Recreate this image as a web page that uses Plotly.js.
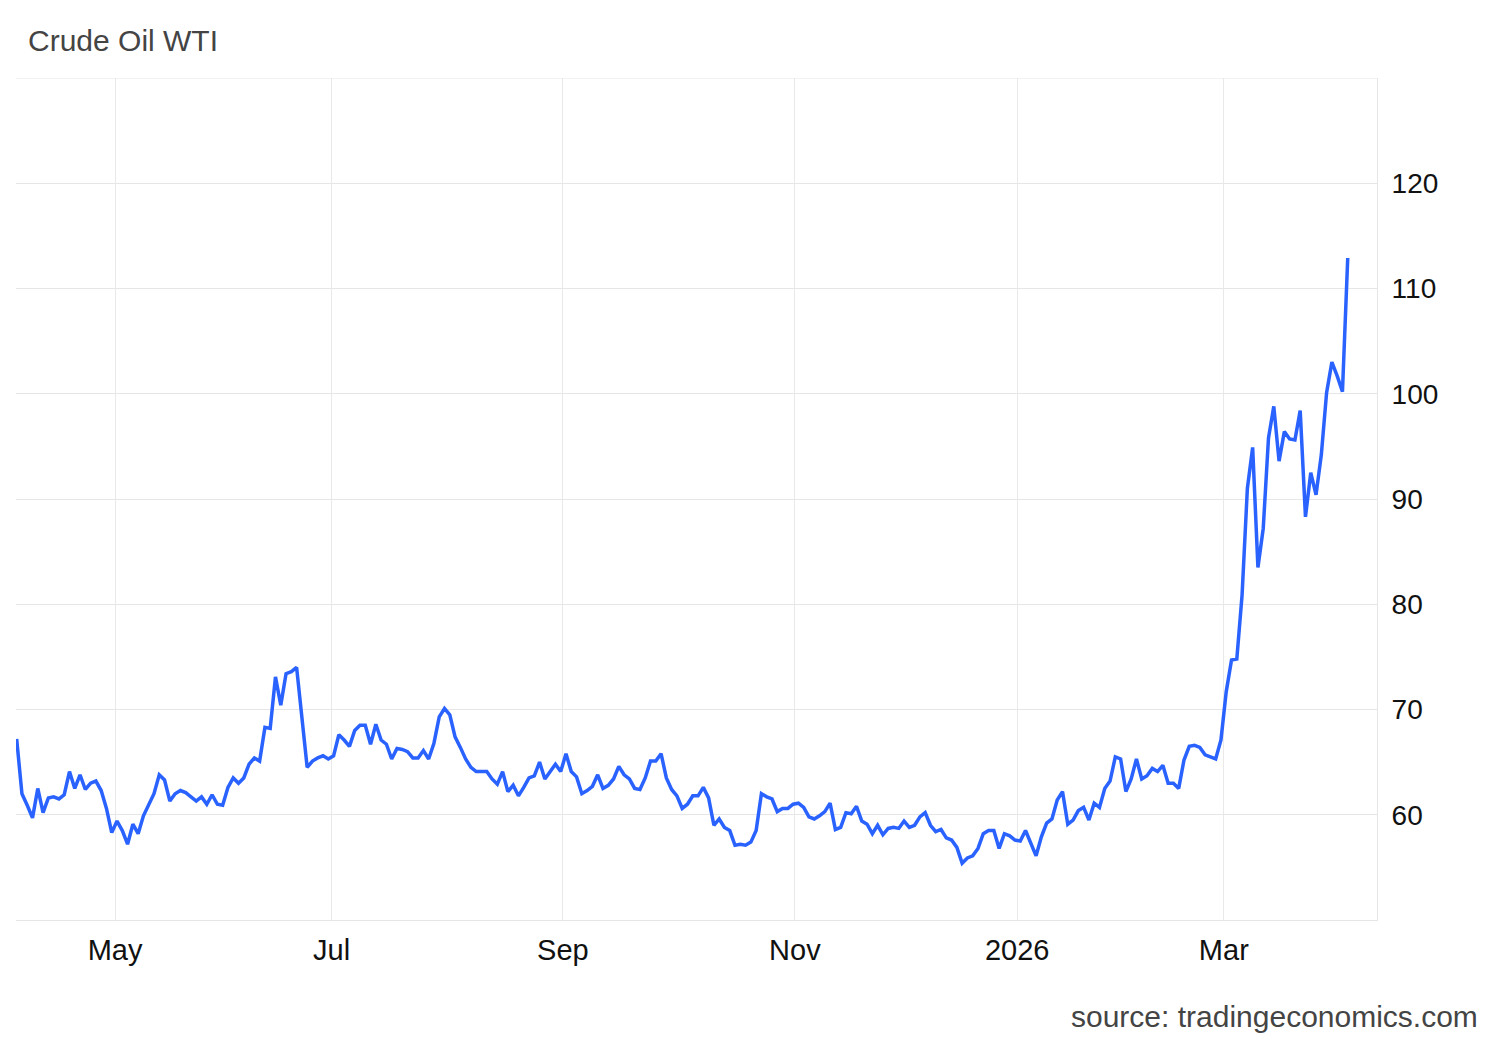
<!DOCTYPE html>
<html>
<head>
<meta charset="utf-8">
<script src="https://cdn.plot.ly/plotly-3.0.1.min.js"></script>
<style>html,body{margin:0;padding:0;background:#fff;}#chart{width:1500px;height:1040px;}</style>
</head>
<body>
<div id="chart"></div>
<script>
// Trading days (day of month) and WTI closes, month by month
const d2504 = [3,4,7,8,9,10,11,14,15,16,17,21,22,23,24,25,28,29,30];
const v2504 = [67.2,62.0,60.9,59.7,62.5,60.2,61.6,61.7,61.5,61.9,64.1,62.5,63.8,62.4,63.0,63.2,62.3,60.6,58.3];
const d2505 = [1,2,5,6,7,8,9,12,13,14,15,16,19,20,21,22,23,27,28,29,30];
const v2505 = [59.4,58.5,57.2,59.1,58.2,59.9,61.0,62.0,63.8,63.3,61.3,62.0,62.3,62.1,61.7,61.3,61.7,61.0,61.9,61.0,60.9];
const d2506 = [2,3,4,5,6,9,10,11,12,13,16,17,18,20,23,24,25,26,27,30];
const v2506 = [62.6,63.5,63.0,63.5,64.8,65.4,65.1,68.3,68.2,73.1,70.4,73.4,73.6,74.0,69.2,64.5,65.1,65.4,65.6,65.3];
const d2507 = [1,2,3,4,7,8,9,10,11,14,15,16,17,18,21,22,23,24,25,28,29,30,31];
const v2507 = [65.6,67.6,67.1,66.5,68.0,68.5,68.5,66.7,68.6,67.1,66.7,65.3,66.3,66.2,66.0,65.4,65.4,66.1,65.3,66.8,69.3,70.1,69.5];
const d2508 = [1,4,5,6,7,8,11,12,13,14,15,18,19,20,21,22,25,26,27,28,29];
const v2508 = [67.4,66.4,65.3,64.5,64.1,64.1,64.1,63.4,62.9,64.1,62.2,62.8,61.8,62.6,63.5,63.7,65.0,63.4,64.1,64.8,64.1];
const d2509 = [2,3,4,5,8,9,10,11,12,15,16,17,18,19,22,23,24,25,26,29,30];
const v2509 = [65.8,64.1,63.6,62.0,62.3,62.7,63.8,62.5,62.8,63.4,64.6,63.8,63.4,62.5,62.4,63.5,65.1,65.1,65.8,63.5,62.4];
const d2510 = [1,2,3,6,7,8,9,10,13,14,15,16,17,20,21,22,23,24,27,28,29,30,31];
const v2510 = [61.8,60.6,61.0,61.8,61.8,62.6,61.6,59.0,59.6,58.8,58.5,57.1,57.2,57.1,57.4,58.5,62.0,61.7,61.5,60.3,60.6,60.6,61.0];
const d2511 = [3,4,5,6,7,10,11,12,13,14,17,18,19,20,21,24,25,26,27,28];
const v2511 = [61.1,60.7,59.8,59.6,59.9,60.3,61.1,58.6,58.8,60.2,60.1,60.8,59.4,59.1,58.2,59.0,58.1,58.7,58.8,58.7];
const d2512 = [1,2,3,4,5,8,9,10,11,12,15,16,17,18,19,22,23,24,26,29,30,31];
const v2512 = [59.4,58.8,59.0,59.8,60.2,59.0,58.4,58.6,57.8,57.6,56.9,55.4,55.9,56.1,56.8,58.2,58.5,58.5,56.8,58.2,58.0,57.6];
const d2601 = [2,5,6,7,8,9,12,13,14,15,16,20,21,22,23,26,27,28,29,30];
const v2601 = [57.5,58.5,57.2,56.1,57.9,59.2,59.6,61.4,62.2,59.1,59.5,60.4,60.7,59.5,61.1,60.7,62.5,63.2,65.5,65.3];
const d2602 = [2,3,4,5,6,9,10,11,12,13,17,18,19,20,23,24,25,26,27];
const v2602 = [62.2,63.4,65.3,63.4,63.7,64.4,64.1,64.7,63.0,63.0,62.5,65.2,66.5,66.6,66.4,65.7,65.5,65.3,67.1];
const d2603 = [2,3,4,5,6,9,10,11,12,13,16,17,18,19,20,23,24,25,26,27,30,31];
const v2603 = [71.7,74.7,74.8,80.9,91.0,94.9,83.5,87.2,95.8,98.8,93.6,96.4,95.7,95.6,98.4,88.3,92.5,90.4,94.2,100.1,103.0,101.7];
const d2604 = [1,2];
const v2604 = [100.2,112.9];

const holidays = ['2025-04-18','2025-05-26','2025-06-19','2025-09-01','2025-12-25','2026-01-01','2026-01-19','2026-02-16'];
// month ticks sit just before the first trading session of each labelled month
const xTickVals = ['2025-04-30 15:00','2025-06-30 15:00','2025-08-29 10:00','2025-10-31 08:00','2025-12-31 10:00','2026-02-27 13:00'];
const xTickText = ['May','Jul','Sep','Nov','2026','Mar'];
const yTickVals = [60,70,80,90,100,110,120];

const months = [
  ['2025-04', d2504, v2504], ['2025-05', d2505, v2505], ['2025-06', d2506, v2506],
  ['2025-07', d2507, v2507], ['2025-08', d2508, v2508], ['2025-09', d2509, v2509],
  ['2025-10', d2510, v2510], ['2025-11', d2511, v2511], ['2025-12', d2512, v2512],
  ['2026-01', d2601, v2601], ['2026-02', d2602, v2602], ['2026-03', d2603, v2603],
  ['2026-04', d2604, v2604]
];
const xs = [], ys = [];
months.forEach(([ym, days, vals]) => {
  days.forEach((d, i) => {
    xs.push(ym + '-' + String(d).padStart(2, '0'));
    ys.push(vals[i]);
  });
});

const FONT = 'Liberation Sans, Arial, sans-serif';

const trace = {
  type: 'scatter',
  mode: 'lines',
  x: xs,
  y: ys,
  line: {color: '#2962ff', width: 3.5},
  hoverinfo: 'x+y'
};

const layout = {
  width: 1500,
  height: 1040,
  margin: {l: 16, r: 123, t: 78, b: 120},
  paper_bgcolor: '#ffffff',
  plot_bgcolor: '#ffffff',
  showlegend: false,
  title: {
    text: 'Crude Oil WTI',
    font: {family: FONT, size: 30, color: '#444444'},
    xref: 'container', yref: 'container',
    x: 28 / 1500, xanchor: 'left',
    y: 1 - 40 / 1040, yanchor: 'middle'
  },
  xaxis: {
    type: 'date',
    range: ['2025-04-02 21:00', '2026-04-09 13:00'],
    rangebreaks: [{bounds: ['sat', 'mon']}, {values: holidays}],
    tickmode: 'array',
    tickvals: xTickVals,
    ticktext: xTickText,
    showgrid: true,
    gridcolor: '#e9e9e9',
    gridwidth: 1,
    showline: true,
    linecolor: '#e6e6e6',
    linewidth: 1,
    zeroline: false,
    ticks: '',
    tickfont: {family: FONT, size: 29, color: '#111111'},
    ticklabelstandoff: 4
  },
  yaxis: {
    side: 'right',
    range: [50, 130],
    tickmode: 'array',
    tickvals: yTickVals,
    showgrid: true,
    gridcolor: '#e6e6e6',
    gridwidth: 1,
    showline: true,
    linecolor: '#e6e6e6',
    linewidth: 1,
    zeroline: false,
    ticks: '',
    tickfont: {family: FONT, size: 28, color: '#111111'},
    ticklabelstandoff: 8
  },
  shapes: [{
    type: 'line', xref: 'paper', yref: 'y',
    x0: 0, x1: 1, y0: 130, y1: 130,
    line: {color: '#e6e6e6', width: 1}
  }],
  annotations: [{
    text: 'source: tradingeconomics.com',
    xref: 'paper', yref: 'paper',
    x: (1480 - 16) / 1361, xanchor: 'right',
    y: -96 / 842, yanchor: 'middle',
    showarrow: false,
    font: {family: FONT, size: 30, color: '#444444'}
  }]
};

Plotly.newPlot('chart', [trace], layout, {displayModeBar: false, staticPlot: true});
</script>
</body>
</html>
